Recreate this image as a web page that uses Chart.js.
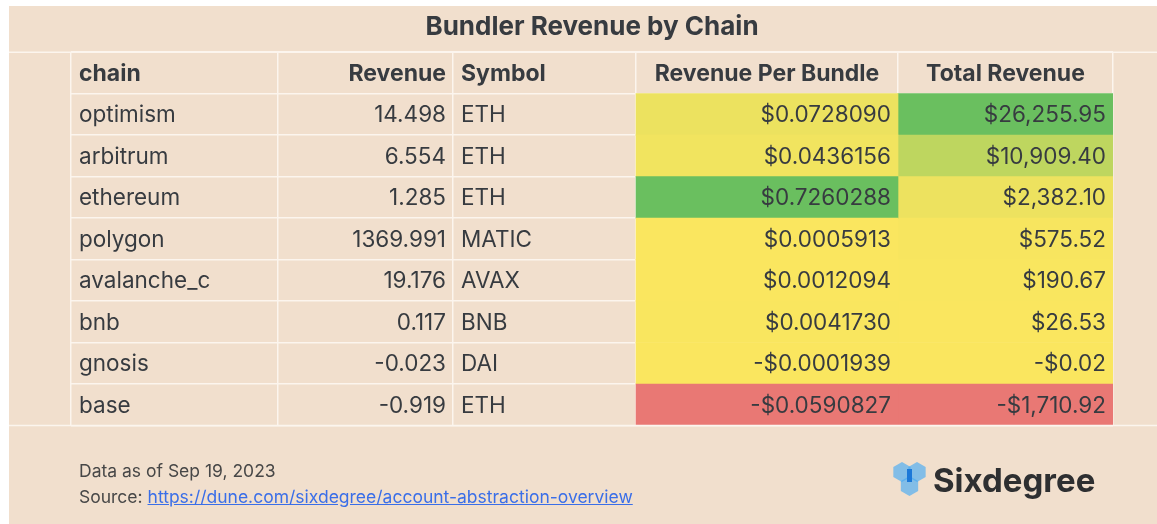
<!DOCTYPE html>
<html>
<head>
<meta charset="utf-8">
<title>Bundler Revenue by Chain</title>
<script src="https://cdn.jsdelivr.net/npm/chart.js@4.4.0/dist/chart.umd.min.js"></script>
<style>
  html, body { margin: 0; padding: 0; background: #ffffff; }
  #wrap { position: relative; width: 1157px; height: 524px; overflow: hidden; }
  #chart { position: absolute; left: 0; top: 0; }
  .note { position: absolute; left: 79px; font-family: Inter, "Noto Sans", sans-serif; font-size: 17.5px; color: #474747; white-space: nowrap; }
  .note a { color: #3a6ee8; text-decoration: underline; }
  #brand { position: absolute; left: 933px; top: 460px; font-family: Inter, sans-serif; font-weight: 700; font-size: 33px; color: #2e2f31; }
</style>
</head>
<body>
<div id="wrap">
  <canvas id="chart" width="1157" height="524"></canvas>
  <div class="note" style="top:460px;">Data as of Sep 19, 2023</div>
  <div class="note" style="top:486px;">Source: <a href="https://dune.com/sixdegree/account-abstraction-overview">https://dune.com/sixdegree/account-abstraction-overview</a></div>
  <div id="brand">Sixdegree</div>
</div>
<script>
// data
const headers = ['chain', 'Revenue', 'Symbol', 'Revenue Per Bundle', 'Total Revenue'];
const chains = ['optimism', 'arbitrum', 'ethereum', 'polygon', 'avalanche_c', 'bnb', 'gnosis', 'base'];
const revenue = [14.498, 6.554, 1.285, 1369.991, 19.176, 0.117, -0.023, -0.919];
const symbols = ['ETH', 'ETH', 'ETH', 'MATIC', 'AVAX', 'BNB', 'DAI', 'ETH'];
const revenuePerBundle = [0.0728090, 0.0436156, 0.7260288, 0.0005913, 0.0012094, 0.0041730, -0.0001939, -0.0590827];
const totalRevenue = [26255.95, 10909.40, 2382.10, 575.52, 190.67, 26.53, -0.02, -1710.92];

// layout of the columns (widths in px)
const colWidths = [207, 175, 183, 262, 215];
const colEdges = [0];
colWidths.forEach(w => colEdges.push(colEdges[colEdges.length - 1] + w));

const textColor = '#373b40';
const lineColor = '#fcf5ee';
const peach = '#f1dfcd';

// formatting
const fmtRev = v => v.toFixed(3);
const fmtRpb = v => (v < 0 ? '-$' : '$') + Math.abs(v).toFixed(7);
const fmtTotal = v => (v < 0 ? '-$' : '$') + Math.abs(v).toLocaleString('en-US', { minimumFractionDigits: 2, maximumFractionDigits: 2 });

const columns = [
    { cells: chains, align: 'left', head: 'left' },
    { cells: revenue.map(fmtRev), align: 'right', head: 'right' },
    { cells: symbols, align: 'left', head: 'left' },
    { cells: revenuePerBundle.map(fmtRpb), align: 'right', head: 'center' },
    { cells: totalRevenue.map(fmtTotal), align: 'right', head: 'center' }
];

// red (min) -> yellow (0) -> green (max)
function heatColor(v, values) {
    const yellow = [250, 230, 95], green = [106, 191, 95], red = [233, 120, 116];
    const max = Math.max(...values), min = Math.min(...values);
    let t, to;
    if (v >= 0) { t = v / max; to = green; } else { t = v / min; to = red; }
    const c = yellow.map((y, k) => Math.round(y + (to[k] - y) * t));
    return `rgb(${c[0]}, ${c[1]}, ${c[2]})`;
}

const rowLabels = ['header'].concat(chains);

function cellDataset(label, values, col) {
    return {
        label: label,
        data: [null].concat(values.map(() => [colEdges[col], colEdges[col + 1]])),
        backgroundColor: [null].concat(values.map(v => heatColor(v, values))),
        borderWidth: 0,
        barPercentage: 1,
        categoryPercentage: 1,
        grouped: false
    };
}

const tablePlugin = {
    id: 'tablePlugin',
    beforeDraw(chart) {
        const ctx = chart.ctx;
        ctx.save();
        ctx.fillStyle = '#ffffff';
        ctx.fillRect(0, 0, chart.width, chart.height);
        ctx.fillStyle = peach;
        ctx.fillRect(9, 6, chart.width - 9, chart.height - 6);
        ctx.restore();
    },
    afterDraw(chart) {
        const ctx = chart.ctx;
        const x = chart.scales.x, y = chart.scales.y;
        const area = chart.chartArea;
        ctx.save();

        // long lines above and below the table
        ctx.strokeStyle = lineColor;
        ctx.lineWidth = 1.5;
        [area.top, area.bottom].forEach(py => {
            ctx.beginPath();
            ctx.moveTo(9, py);
            ctx.lineTo(chart.width, py);
            ctx.stroke();
        });

        // cell text
        ctx.fillStyle = textColor;
        ctx.textBaseline = 'alphabetic';
        rowLabels.forEach((r, i) => {
            const py = y.getPixelForValue(i) + 8;
            columns.forEach((col, c) => {
                const left = x.getPixelForValue(colEdges[c]);
                const right = x.getPixelForValue(colEdges[c + 1]);
                let text, align;
                if (i === 0) {
                    text = headers[c];
                    align = col.head;
                    ctx.font = '700 23px Inter';
                } else {
                    text = String(col.cells[i - 1]);
                    align = col.align;
                    ctx.font = '400 22.5px Inter';
                }
                ctx.textAlign = align;
                const px = align === 'left' ? left + 8 : align === 'right' ? right - 7 : (left + right) / 2;
                ctx.fillText(text, px, py);
            });
        });

        // logo mark
        const hex = (cx, cy, r) => {
            ctx.beginPath();
            for (let k = 0; k < 6; k++) {
                const a = Math.PI / 6 + k * Math.PI / 3;
                ctx.lineTo(cx + r * Math.cos(a), cy + r * Math.sin(a));
            }
            ctx.closePath();
            ctx.fill();
        };
        ctx.fillStyle = 'rgba(70, 170, 245, 0.65)';
        hex(902, 472, 10);
        hex(917, 472, 10);
        hex(909.5, 486, 10);
        ctx.fillStyle = '#1c78d8';
        ctx.fillRect(907, 469, 5, 13);
        ctx.restore();
    }
};

new Chart(document.getElementById('chart'), {
    type: 'bar',
    data: {
        labels: rowLabels,
        datasets: [
            cellDataset('Revenue Per Bundle', revenuePerBundle, 3),
            cellDataset('Total Revenue', totalRevenue, 4)
        ]
    },
    options: {
        responsive: false,
        animation: false,
        indexAxis: 'y',
        layout: { padding: { left: 71, right: 44, top: 6, bottom: 98.5 } },
        scales: {
            x: {
                type: 'linear',
                min: 0,
                max: colEdges[colEdges.length - 1],
                z: 1,
                afterBuildTicks: scale => { scale.ticks = colEdges.map(v => ({ value: v })); },
                grid: { color: lineColor, lineWidth: 1.5, drawTicks: false },
                border: { display: false },
                ticks: { display: false }
            },
            y: {
                type: 'category',
                z: 1,
                grid: { color: lineColor, lineWidth: 1.5, drawTicks: false, offset: true },
                border: { display: false },
                ticks: { display: false }
            }
        },
        plugins: {
            legend: { display: false },
            tooltip: { enabled: false },
            title: {
                display: true,
                text: 'Bundler Revenue by Chain',
                color: textColor,
                font: { family: 'Inter', size: 26, weight: '700' },
                padding: { top: 6, bottom: 9 }
            }
        }
    },
    plugins: [tablePlugin]
});
</script>
</body>
</html>
